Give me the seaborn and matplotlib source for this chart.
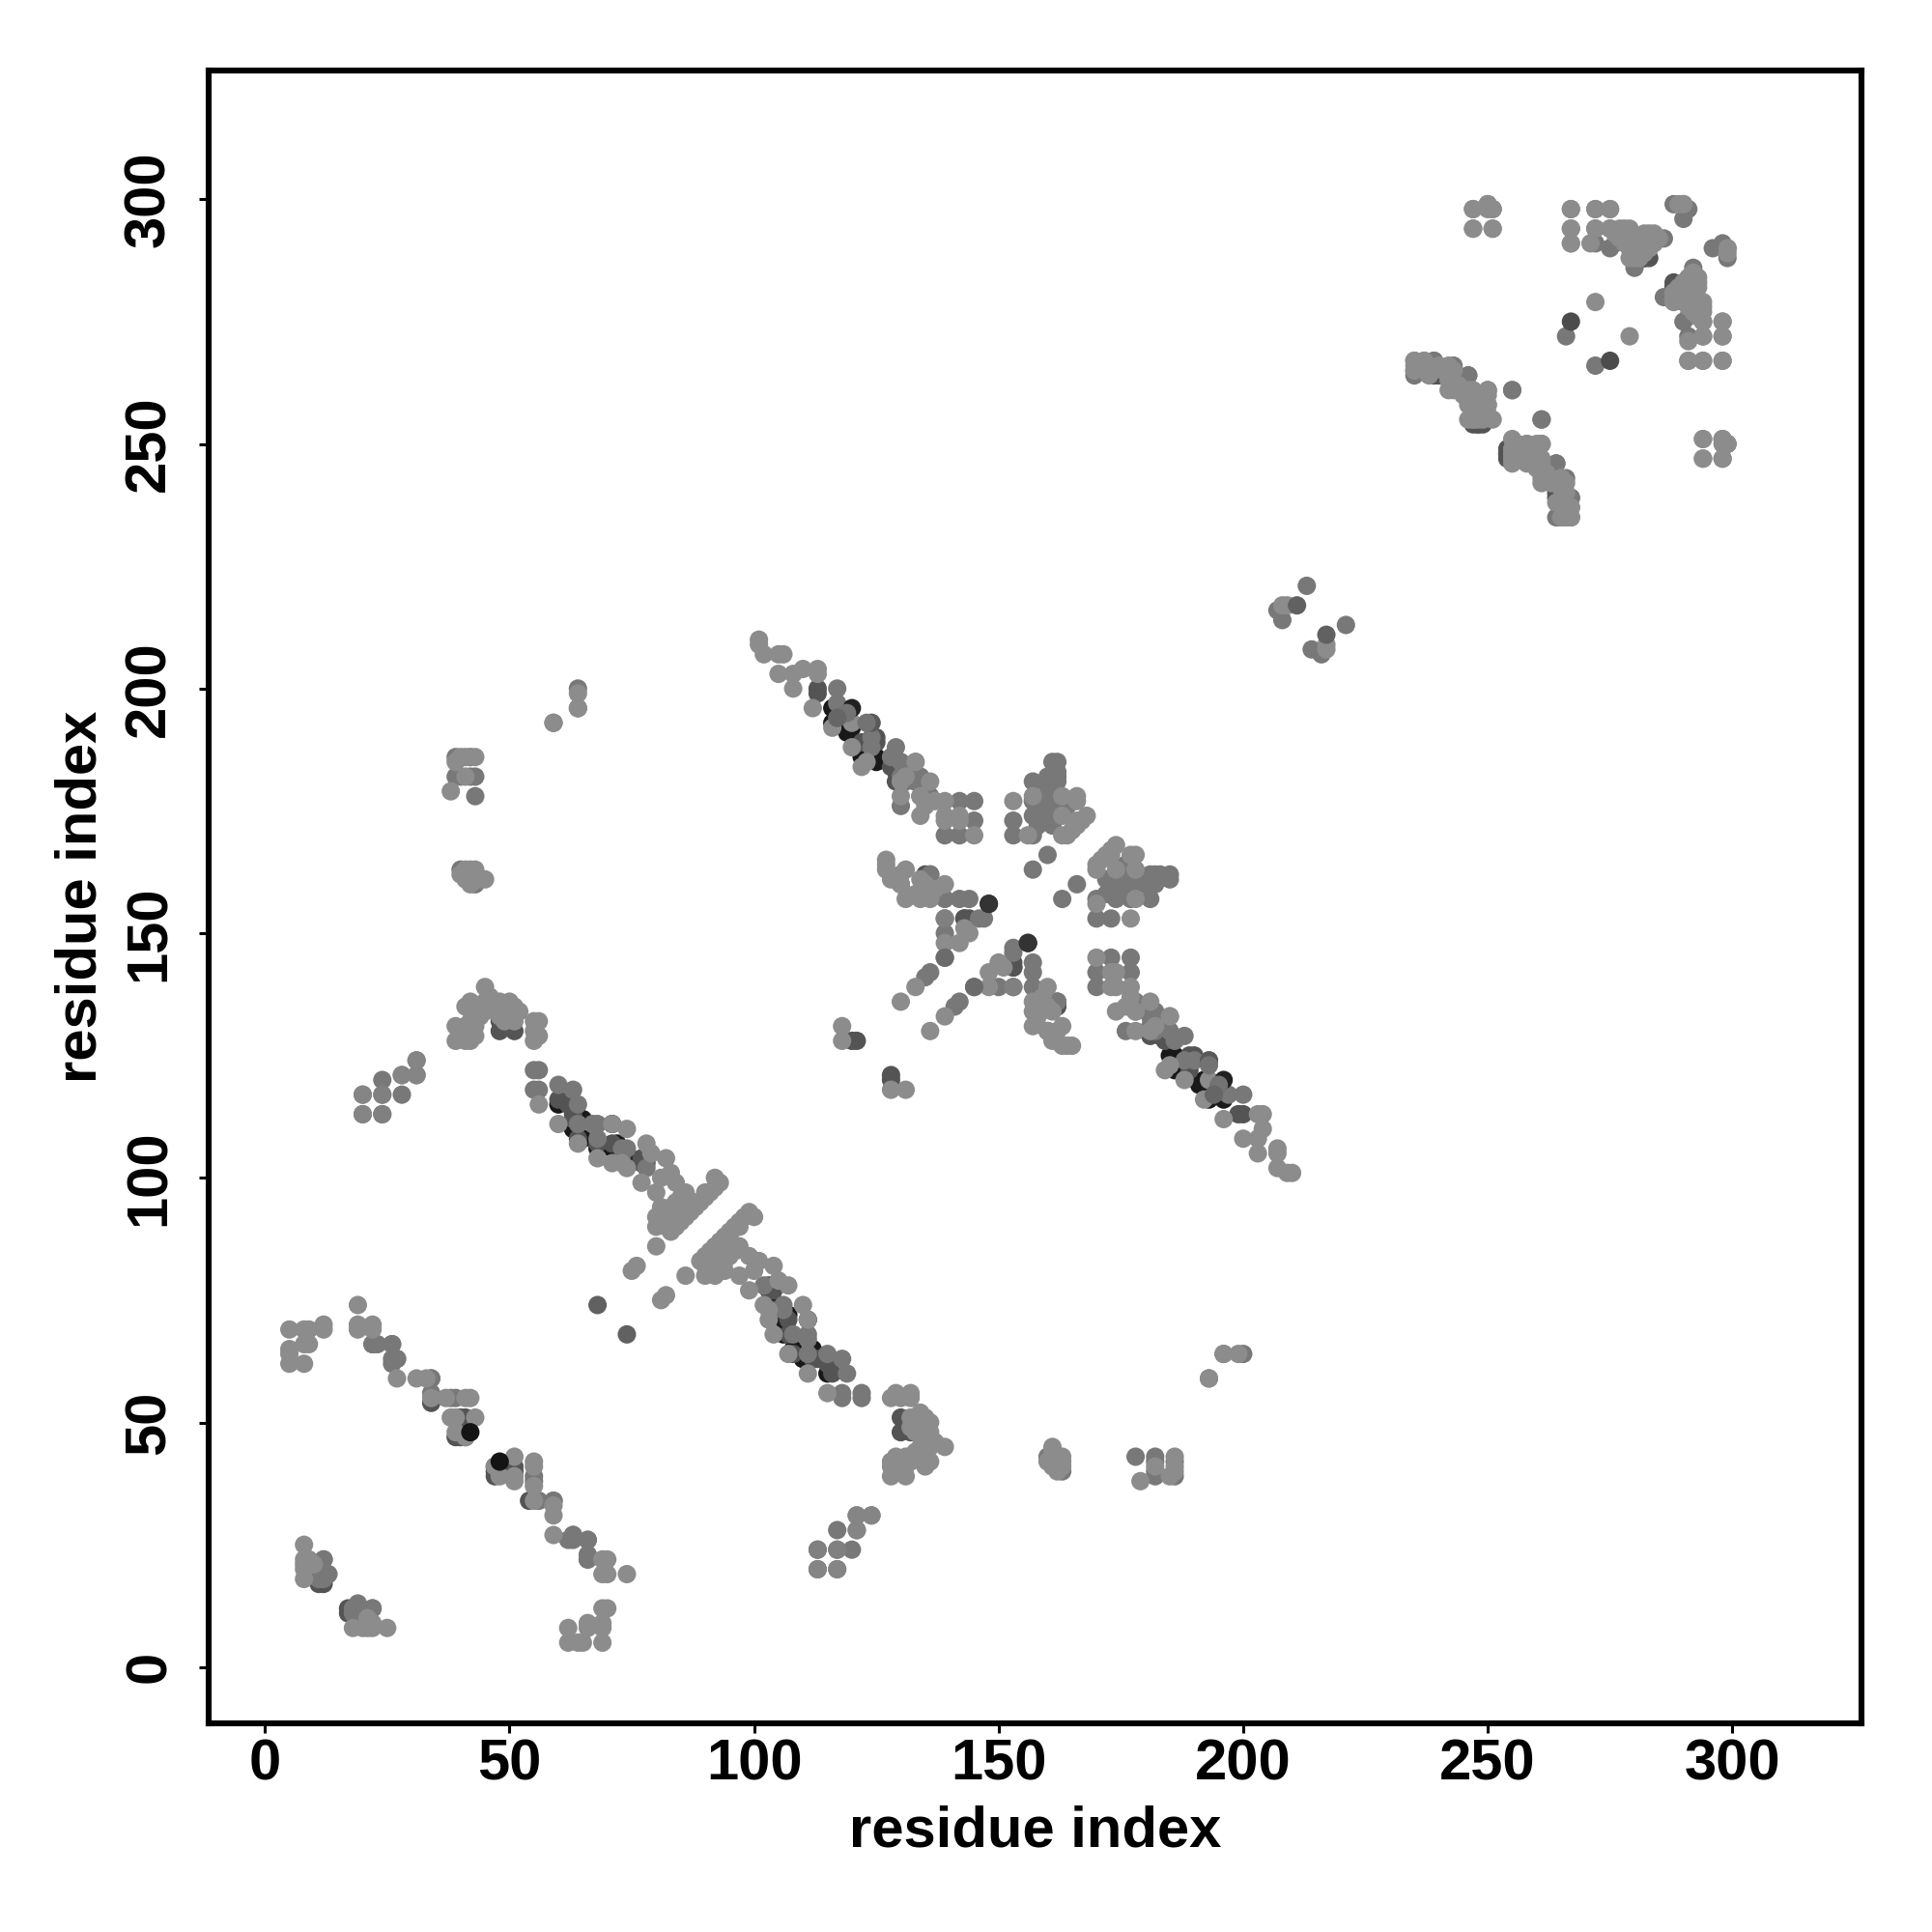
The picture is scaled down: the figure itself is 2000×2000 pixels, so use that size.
import pandas as pd
import seaborn as sns
import matplotlib.pyplot as plt

# residue contacts (i < j), the map is symmetric so the mirror is added below
# grouped by how dark the dot is, listed in drawing order

contacts_black_under = [
    (63, 110), (68, 106), (71, 106), (60, 115), (116, 196), (116, 193), (120, 192), (122, 188), (122, 186),
    (64, 112), (41, 50), (40, 49), (74, 105), (185, 125), (125, 186), (124, 187), (118, 194), (119, 191),
    (111, 71), (107, 72), (110, 63), (108, 65), (104, 73), (112, 65),
]

contacts_dark = [
    (34, 54), (39, 47), (40, 47), (41, 47), (41, 51), (40, 51), (11, 17), (12, 17), (48, 130), (51, 130),
    (48, 132), (60, 116), (63, 112), (68, 107), (71, 107), (77, 103), (78, 103), (73, 104), (77, 104),
    (113, 199), (113, 200), (128, 184), (129, 181), (129, 183), (122, 189), (120, 128), (121, 128),
    (143, 153), (144, 153), (153, 143), (248, 254), (247, 254), (249, 254), (254, 248), (264, 240),
    (264, 239), (264, 241), (282, 288), (283, 288), (288, 282), (108, 64), (115, 62), (113, 63),
    (125, 190), (125, 189), (130, 182), (131, 184), (136, 162), (135, 162),
    (160, 130), (161, 129), (184, 130), (181, 133), (237, 265), (238, 265),
]

contacts_mid = [
    (55, 122), (56, 122), (55, 118), (56, 118), (60, 119), (63, 118), (64, 115), (64, 111), (67, 111),
    (68, 111), (68, 108), (78, 102), (73, 106), (74, 106), (26, 66), (26, 63), (27, 63), (22, 66), (23, 66),
    (12, 22), (12, 19), (13, 19), (12, 18), (18, 11), (22, 12), (63, 27), (62, 26), (66, 26), (66, 22),
    (59, 34), (34, 59), (34, 56), (39, 55), (38, 55), (124, 190), (124, 188), (117, 200), (117, 197),
    (129, 188), (128, 186), (130, 185), (131, 181), (133, 181), (136, 162), (139, 157), (139, 153),
    (139, 150), (157, 177), (160, 173), (160, 177), (157, 181), (160, 182), (161, 185), (162, 185),
    (161, 182), (162, 181), (157, 163), (160, 166), (162, 182), (162, 183), (157, 174), (160, 174),
    (144, 157), (142, 157), (147, 153), (153, 146), (136, 142), (135, 141), (139, 145), (145, 177),
    (145, 173), (142, 177), (139, 170), (142, 170), (176, 130), (178, 134), (178, 136), (182, 130),
    (182, 134), (185, 133), (153, 173), (157, 170), (153, 170), (213, 221), (208, 214), (207, 216),
    (235, 267), (235, 265), (239, 267), (239, 265), (246, 264), (250, 261), (255, 261), (261, 255),
    (250, 256), (264, 246), (266, 243), (267, 239), (264, 235), (266, 272), (275, 290), (279, 290),
    (280, 286), (280, 287), (283, 290), (286, 292), (290, 296), (291, 298), (290, 299), (288, 299),
    (247, 298), (251, 298), (250, 299), (272, 294), (272, 291), (275, 294), (276, 291),
    (59, 193), (64, 200), (64, 196), (39, 182), (40, 182), (42, 182), (43, 182), (39, 186), (42, 186),
    (43, 178), (24, 120), (24, 113), (20, 113), (117, 28), (40, 163), (43, 160),
    (160, 178), (160, 180), (161, 179), (158, 176), (162, 176), (164, 176), (158, 172), (161, 172),
]

contacts_light = [
    # left end blocks and first strand
    (5, 69), (8, 69), (9, 69), (12, 69), (12, 70), (5, 65), (8, 66), (9, 66), (5, 62), (8, 62), (5, 64),
    (19, 74), (19, 70), (19, 69), (22, 70), (22, 69), (27, 59), (31, 59), (33, 59), (34, 55), (37, 55),
    (41, 55), (42, 55), (38, 51), (39, 51), (43, 51), (39, 48), (41, 47),
    (8, 25), (8, 22), (8, 21), (8, 18), (8, 20), (9, 22), (10, 21),
    # second strand, residues 55 to 122
    (56, 115), (60, 111), (64, 107), (68, 104), (71, 111), (71, 103), (74, 110), (73, 103), (74, 102),
    (78, 107), (77, 99), (79, 105), (82, 104), (83, 101), (80, 97), (81, 100), (84, 99), (86, 97),
    (80, 92), (81, 94), (80, 90), (82, 92), (83, 94), (84, 93), (85, 96), (87, 94), (83, 89), (84, 90),
    (85, 91), (86, 92), (87, 93), (88, 94), (89, 95), (90, 96), (91, 97), (92, 98), (93, 99), (92, 100),
    (88, 95), (90, 97), (83, 90), (84, 91), (85, 92), (86, 93), (87, 95), (82, 90), (81, 91), (83, 93),
    (84, 95), (85, 94), (86, 95), (80, 86), (75, 81), (76, 82),
    # residues 20 to 55 against 113 to 139
    (20, 117), (24, 117), (28, 121), (31, 124), (31, 121), (39, 131), (39, 128), (40, 129), (41, 128),
    (42, 128), (43, 131), (41, 135), (42, 136), (43, 134), (44, 133), (45, 134), (45, 136), (45, 139),
    (46, 137), (47, 135), (48, 136), (49, 135), (50, 136), (51, 135), (52, 134), (55, 132), (55, 128),
    (55, 130), (56, 132), (56, 129), (41, 131), (42, 132), (43, 129),
    (48, 134), (48, 133), (51, 134), (51, 132), (49, 132),
    # residues 38 to 64 long range
    (39, 185), (38, 179), (41, 186), (43, 186), (40, 186), (41, 182),
    (41, 163), (42, 163), (43, 163), (40, 162), (41, 161), (42, 160), (44, 161), (45, 161), (43, 162),
    # third strand, residues 101 to 145
    (101, 210), (101, 209), (102, 207), (105, 207), (106, 207), (105, 203), (108, 203), (108, 200),
    (110, 204), (113, 204), (113, 203), (112, 196), (120, 193), (116, 192), (120, 188), (123, 185),
    (122, 184), (124, 193), (133, 185), (130, 181), (136, 181), (130, 178), (134, 178), (137, 177),
    (139, 177), (134, 174), (139, 174), (139, 173), (142, 173), (142, 174), (145, 170), (135, 176),
    (118, 131), (118, 128), (131, 182),
    # star around residue 155
    (127, 165), (127, 164), (127, 163), (128, 161), (131, 163), (131, 157), (130, 160), (134, 161),
    (134, 157), (136, 157), (139, 160), (137, 159), (133, 158), (135, 160), (130, 162),
    (139, 148), (142, 148), (144, 150), (133, 139), (130, 136), (143, 151),
    (153, 177), (156, 170), (157, 178), (163, 178), (166, 177), (166, 178), (163, 174), (166, 173),
    (168, 174), (167, 173), (163, 170), (164, 170), (165, 171), (166, 172),
    # residues 208 to 221
    (208, 217), (209, 217), (199, 64), (193, 59), (196, 64),
    # block around residues 235 to 267
    (235, 266), (237, 267), (238, 264), (242, 266), (243, 265), (244, 262), (242, 261), (246, 261),
    (246, 258), (247, 256), (246, 255), (248, 257), (250, 258), (249, 259), (250, 260), (251, 255),
    (249, 255), (247, 255), (255, 248), (256, 250), (258, 250), (255, 247), (258, 247), (261, 247),
    (261, 250), (257, 248), (259, 249),
    (260, 245), (261, 243), (262, 244), (263, 242), (265, 243), (265, 241), (266, 240), (267, 235),
    (265, 235), (266, 236), (266, 237), (267, 237), (294, 251), (298, 251), (299, 250), (298, 250),
    (294, 247), (298, 247), (291, 267), (294, 267), (298, 267), (291, 271),
    (247, 294), (251, 294), (267, 298), (267, 294), (267, 291), (272, 298), (275, 298), (278, 294),
    (277, 294), (279, 294), (276, 293), (282, 293), (283, 292), (281, 292), (280, 288), (280, 290),
    (279, 292), (278, 291), (277, 292), (281, 290), (282, 291), (283, 293), (284, 291), (284, 292),
    (283, 290), (272, 279), (298, 275), (298, 272), (294, 272), (294, 275), (290, 299), (289, 299),
    (282, 289), (284, 293), (285, 292), (281, 288), (279, 288), (280, 292),
]

contacts_top = [
    (42, 48), (68, 74), (120, 196), (148, 156), (267, 275), (211, 217), (124, 193),
    (113, 24), (113, 20), (117, 24), (117, 20), (121, 28), (121, 31), (124, 31), (153, 139), (156, 148),
    (123, 193), (119, 195), (117, 194), (139, 145),
]

shades_top = [
    0.08, 0.38, 0.13, 0.2, 0.3, 0.38, 0.35,
    0.5, 0.52, 0.5, 0.52, 0.52, 0.52, 0.52, 0.5, 0.2,
    0.45, 0.45, 0.4, 0.42,
]

tick_values = [0, 50, 100, 150, 200, 250, 300]

rows = []
for pairs, shade in [(contacts_black_under, 0.1), (contacts_dark, 0.33), (contacts_mid, 0.47), (contacts_light, 0.55)]:
    for i, j in pairs:
        rows.append((i, j, shade))
        rows.append((j, i, shade))
for (i, j), shade in zip(contacts_top, shades_top):
    rows.append((i, j, shade))
    rows.append((j, i, shade))
df = pd.DataFrame(rows, columns=["res_x", "res_y", "shade"])

sns.set_theme(style="ticks")
plt.rcParams["font.family"] = ["Liberation Sans", "DejaVu Sans"]
plt.rcParams["font.weight"] = "bold"

fig = plt.figure(figsize=(10, 10), dpi=200)
ax = fig.add_axes([0.108, 0.108, 0.8555, 0.8557])

sns.scatterplot(data=df, x="res_x", y="res_y", hue="shade", palette="gray", hue_norm=(0, 1),
                s=47, linewidth=0, legend=False, ax=ax)

ax.set_xlim(-11.5, 326.4)
ax.set_ylim(-11.5, 326.4)
ax.set_xticks(tick_values)
ax.set_yticks(tick_values)
ax.tick_params(axis="both", length=3.5, width=1.1, color="black", labelsize=21.5, labelcolor="black")
ax.tick_params(axis="x", pad=2)
ax.tick_params(axis="y", pad=8.5)
plt.setp(ax.get_yticklabels(), rotation=90, va="center")
ax.set_xlabel("residue index", fontsize=21.5, fontweight="bold", color="black", labelpad=5)
ax.set_ylabel("residue index", fontsize=21.5, fontweight="bold", color="black", labelpad=6)
for spine in ax.spines.values():
    spine.set_visible(True)
    spine.set_linewidth(2.2)
    spine.set_color("black")

plt.savefig("out.png", dpi=200)
